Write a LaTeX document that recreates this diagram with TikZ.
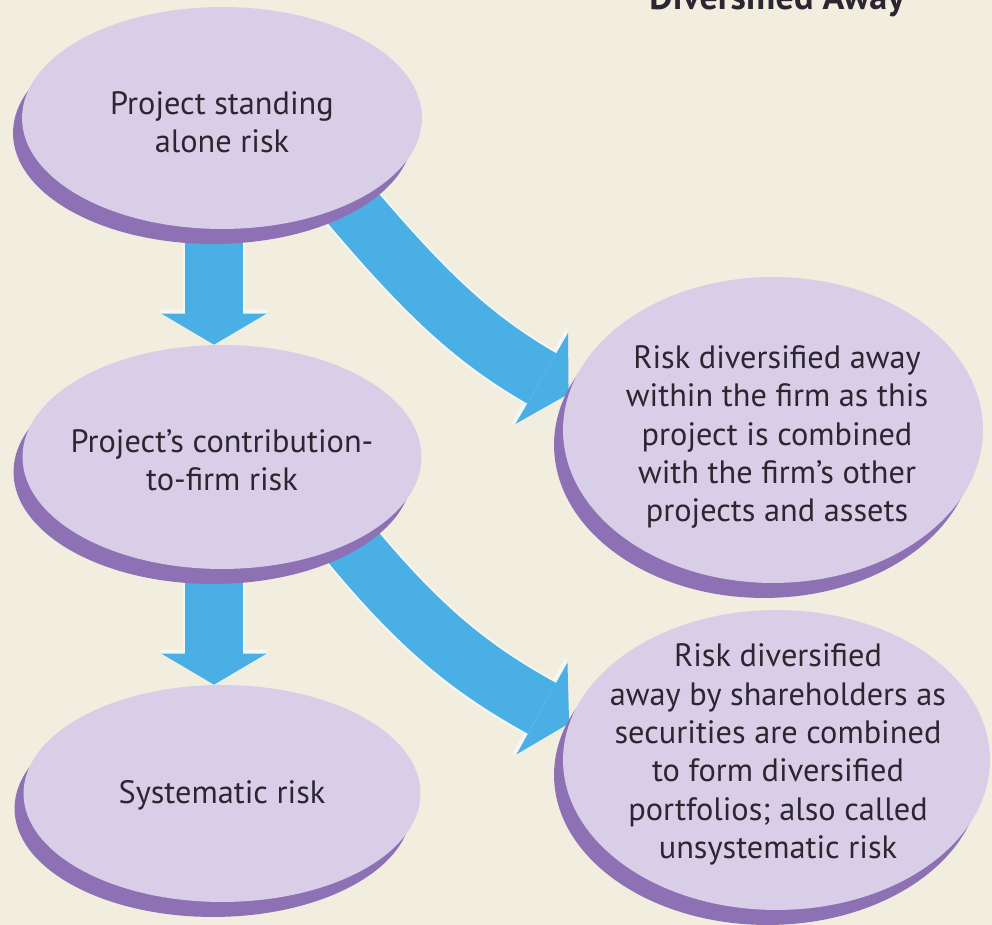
\documentclass[tikz,border=0pt]{standalone}
\usepackage{fontspec}
\setmainfont{PT Sans}
\usetikzlibrary{shapes.geometric,arrows.meta,shadows,backgrounds}
\definecolor{cream}{HTML}{F1EEDF}
\definecolor{lilac}{HTML}{D9CEE7}
\definecolor{plum}{HTML}{8E70B5}
\definecolor{sky}{HTML}{4AAFE4}
\definecolor{halo}{HTML}{F4F8F4}
\definecolor{ink}{HTML}{2B2630}

\begin{document}
\begin{tikzpicture}[x=0.02cm,y=0.02cm,
  blob/.style={ellipse,fill=lilac,inner sep=0pt,drop shadow={shadow xshift=-0.18cm,shadow yshift=-0.3cm,fill=plum,opacity=1}},
  lbl/.style={align=center,text=ink,font=\fontsize{18.4}{21.8}\selectfont},
  flow/.style={draw=sky,line width=1.16cm,-{Triangle[width=2.1cm,length=0.62cm,line width=0pt]},
    preaction={draw=halo,line width=1.24cm,-{Triangle[width=2.26cm,length=0.7cm,line width=0pt]}}}]
\useasboundingbox (0,0) rectangle (992,925);
\clip (0,0) rectangle (992,925);
% heading, only its last line shows
\node[anchor=base,text=ink,font=\fontsize{20.6}{24}\selectfont\bfseries] (head) at (777,915) {Diversified Away};
% the five risk ellipses
\node[blob,minimum width=8cm,minimum height=4.44cm] (e1) at (222,807) {};
\node[blob,minimum width=7.98cm,minimum height=4.48cm] (e2) at (222,468) {};
\node[blob,minimum width=7.94cm,minimum height=4.34cm] (e3) at (222,131.5) {};
\node[blob,minimum width=8.4cm,minimum height=6.12cm] (e4) at (773,495) {};
\node[blob,minimum width=8.54cm,minimum height=6cm] (e5) at (776.5,165) {};
\node[lbl] (t1) at (222,803) {Project standing\\alone risk};
\node[lbl] (t2) at (222,465) {Project’s contribution-\\to-firm risk};
\node[lbl] (t3) at (222,130) {Systematic risk};
\node[lbl] (t4) at (777,488) {Risk diversified away\\within the firm as this\\project is combined\\with the firm’s other\\projects and assets};
\node[lbl] (t5) at (778,170.5) {Risk diversified\\away by shareholders as\\securities are combined\\to form diversified\\portfolios; also called\\unsystematic risk};
% arrows go under the ellipses
\begin{scope}[on background layer]
\fill[cream] (0,0) rectangle (992,925);
\foreach \a/\b in {e1/e2,e2/e3}{\draw[flow] ([xshift=-0.16cm]\a.center) -- ([xshift=-0.16cm]\b.north);}
\draw[flow,shorten <=-0.3cm] (e1.-34) to[out=-50,in=150] (e4.170);
\draw[flow,shorten <=-0.3cm] (e2.-34) to[out=-51,in=151] (e5.170);
\end{scope}
\end{tikzpicture}
\end{document}
